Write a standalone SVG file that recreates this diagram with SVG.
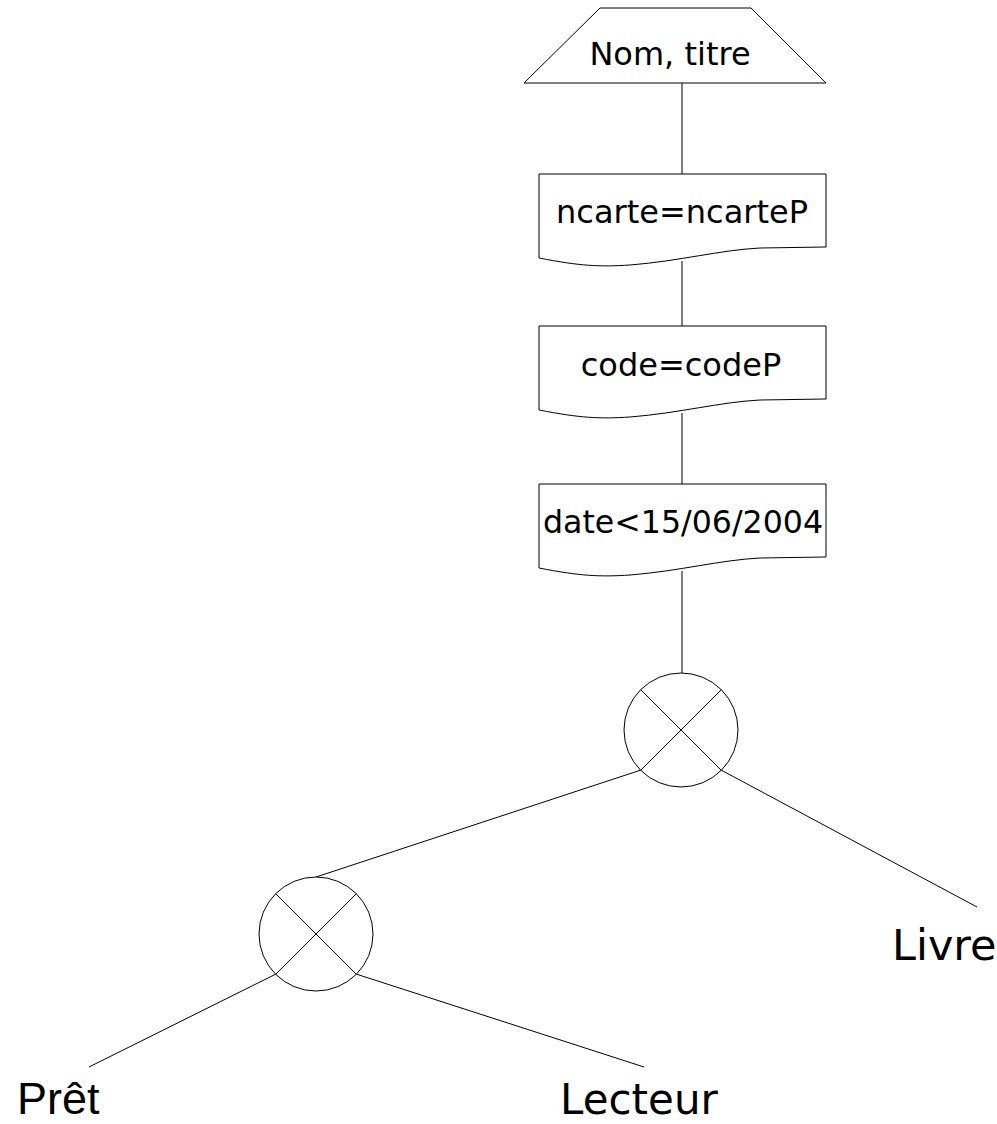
<svg xmlns="http://www.w3.org/2000/svg" width="997" height="1124" viewBox="0 0 997 1124">
  <style>
    .shape { fill: #ffffff; stroke: #000000; stroke-width: 1; }
    .edge { fill: none; stroke: #000000; stroke-width: 1; }
    .lbl { font-family: "DejaVu Sans", sans-serif; font-size: 32px; fill: #000000; text-anchor: middle; }
    .leaf { font-family: "DejaVu Sans", sans-serif; font-size: 43px; fill: #000000; }
  </style>
  <rect width="997" height="1124" fill="#ffffff"/>
  <g id="connectors">
    <line class="edge" x1="682" y1="83" x2="682" y2="174"/>
    <line class="edge" x1="682" y1="261" x2="682" y2="326"/>
    <line class="edge" x1="682" y1="413" x2="682" y2="484"/>
    <line class="edge" x1="682" y1="571" x2="682" y2="673"/>
    <line class="edge" x1="641" y1="770" x2="316" y2="877"/>
    <line class="edge" x1="721" y1="770" x2="977" y2="907"/>
    <line class="edge" x1="276" y1="974" x2="89" y2="1067"/>
    <line class="edge" x1="356" y1="974" x2="644" y2="1067"/>
  </g>
  <g id="projection">
    <path class="shape" d="M600,8 H751 L826,83 H524 Z"/>
    <text class="lbl" x="670" y="65">Nom, titre</text>
  </g>
  <g id="sel-ncarte">
    <path class="shape" d="M539,174 H826 V247 L760,248 C720,250 680,261 630,265 C600,267 580,266 539,258 Z"/>
    <text class="lbl" x="682" y="223">ncarte=ncarteP</text>
  </g>
  <g id="sel-code">
    <path class="shape" d="M539,326 H826 V399 L760,400 C720,402 680,413 630,417 C600,419 580,418 539,410 Z"/>
    <text class="lbl" x="681" y="376">code=codeP</text>
  </g>
  <g id="sel-date">
    <path class="shape" d="M539,484 H826 V557 L760,558 C720,560 680,571 630,575 C600,577 580,576 539,568 Z"/>
    <text class="lbl" x="683" y="533" textLength="280" lengthAdjust="spacingAndGlyphs">date&lt;15/06/2004</text>
  </g>
  <g id="join1">
    <circle class="shape" cx="681" cy="730" r="57"/>
    <line class="edge" x1="640.7" y1="689.7" x2="721.3" y2="770.3"/>
    <line class="edge" x1="721.3" y1="689.7" x2="640.7" y2="770.3"/>
  </g>
  <g id="join2">
    <circle class="shape" cx="316" cy="934" r="57"/>
    <line class="edge" x1="275.7" y1="893.7" x2="356.3" y2="974.3"/>
    <line class="edge" x1="356.3" y1="893.7" x2="275.7" y2="974.3"/>
  </g>
  <g id="livre">
    <text class="leaf" x="892" y="960">Livre</text>
  </g>
  <g id="pret">
    <text x="17" y="1114" font-family="Liberation Sans, Arial, sans-serif" font-size="45" fill="#000000">Prêt</text>
  </g>
  <g id="lecteur">
    <text class="leaf" x="560" y="1114" style="font-size:42px">Lecteur</text>
  </g>
</svg>
